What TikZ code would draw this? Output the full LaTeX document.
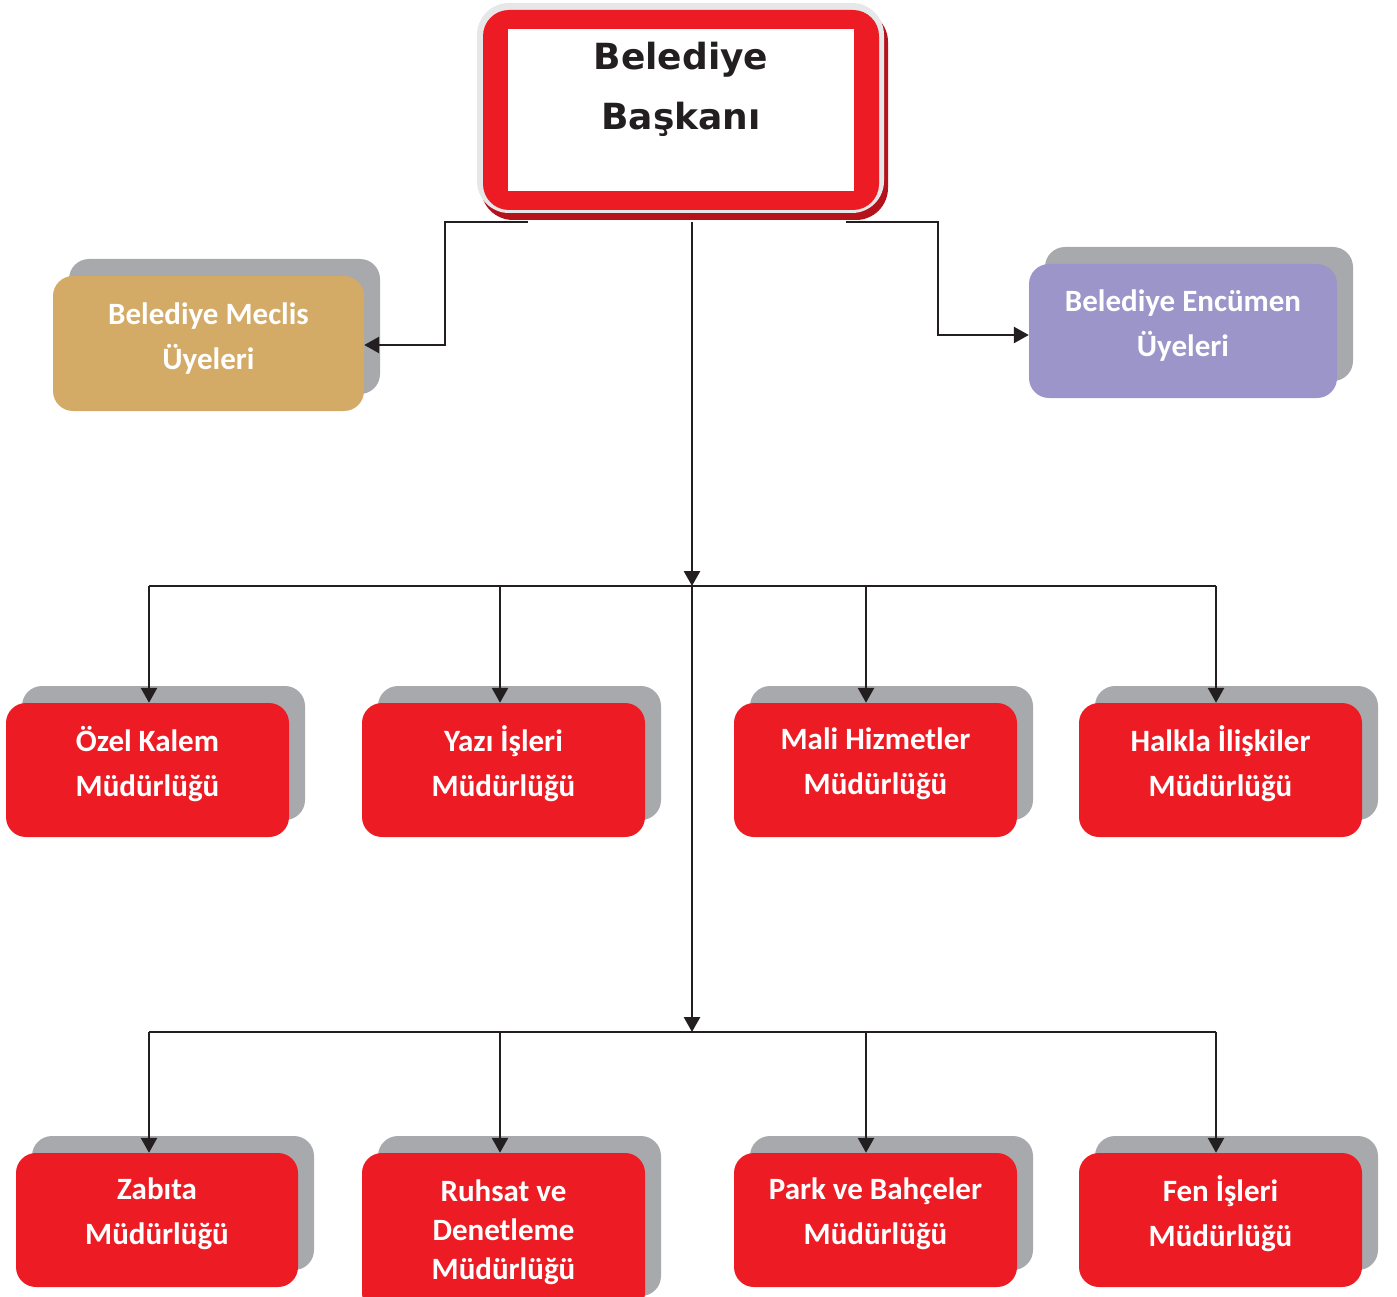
\documentclass[tikz,border=0pt]{standalone}
\usepackage{fontspec}
\setmainfont{Carlito}
\newfontfamily\headfont{DejaVu Sans}
\usetikzlibrary{arrows.meta,shadows,calc}
\definecolor{rd}{HTML}{ED1C24}
\definecolor{shg}{HTML}{A7A9AC}
\definecolor{tanc}{HTML}{D3AB67}
\definecolor{lil}{HTML}{9B95C9}
\definecolor{lnc}{HTML}{231F20}
\definecolor{ringc}{HTML}{E6E7E8}
\definecolor{dred}{HTML}{B5121B}
\begin{document}
\begin{tikzpicture}[x=1pt,y=-1pt,
  box/.style={rounded corners=20pt, minimum width=283pt, minimum height=134pt,
    text=white, font=\fontsize{31}{45}\selectfont\bfseries, align=center, inner sep=0pt,
    text depth=18pt,
    copy shadow={shadow xshift=16pt, shadow yshift=17pt, fill=shg, draw=none}},
  redbox/.style={box, fill=rd},
  arr/.style={-{Triangle[length=15pt,width=16pt]}, line width=2.7pt, draw=lnc},
  conn/.style={line width=2.7pt, draw=lnc}]
\useasboundingbox (0,0) rectangle (1397,1297);

% top box
\node[fill=dred, rounded corners=32pt, minimum width=407pt, minimum height=210pt, inner sep=0pt] (bshadow) at (684.5,115) {};
\node[fill=ringc, rounded corners=32pt, minimum width=407pt, minimum height=210pt, inner sep=0pt] (baskan) at (680.5,108) {};
\node[fill=rd, rounded corners=26pt, minimum width=396pt, minimum height=200pt, inner sep=0pt] (baskanred) at (681,110) {};
\node[fill=white, minimum width=346pt, minimum height=162pt, inner sep=0pt] (baskanin) at (681,110) {};
\node[font=\headfont\fontsize{36}{60}\selectfont\bfseries, text=lnc, align=center] (baskantext) at (681,89) {Belediye\\Başkanı};

% side boxes
\node[box, fill=tanc, minimum width=311pt, minimum height=135pt, text depth=15pt] (meclis) at (208.5,343.5) {Belediye Meclis\\Üyeleri};
\node[box, fill=lil, minimum width=308pt, minimum height=134pt, text depth=15pt] (encumen) at (1183,331) {Belediye Encümen\\Üyeleri};

% row 1
\node[redbox] (ozel) at (147.5,770) {Özel Kalem\\Müdürlüğü};
\node[redbox] (yazi) at (503.5,770) {Yazı İşleri\\Müdürlüğü};
\node[redbox] (mali) at (875.5,770) {Mali Hizmetler\\Müdürlüğü};
\node[redbox] (halkla) at (1220.5,770) {Halkla İlişkiler\\Müdürlüğü};

% row 2
\node[redbox, minimum width=282pt] (zabita) at (157,1220) {Zabıta\\Müdürlüğü};
\node[redbox, minimum height=160pt, text depth=7pt, font=\fontsize{31}{39}\selectfont\bfseries] (ruhsat) at (503.5,1233) {Ruhsat ve\\Denetleme\\Müdürlüğü};
\node[redbox] (park) at (875.5,1220) {Park ve Bahçeler\\Müdürlüğü};
\node[redbox] (fen) at (1220.5,1220) {Fen İşleri\\Müdürlüğü};

% connector points
\coordinate (bl) at (528,222);
\coordinate (br) at (846,222);
\coordinate (bm) at (692,222);
\coordinate (j1) at (692,586);
\coordinate (j2) at (692,1032);
\coordinate (a1) at (149,586);
\coordinate (a2) at (500,586);
\coordinate (a3) at (866,586);
\coordinate (a4) at (1216,586);
\coordinate (b1) at (149,1032);
\coordinate (b2) at (500,1032);
\coordinate (b3) at (866,1032);
\coordinate (b4) at (1216,1032);

% connectors
\draw[arr] (bl) -- ++(-83,0) |- ([yshift=-1.5pt]meclis.east);
\draw[arr] (br) -- ++(92,0) |- ([yshift=-4pt]encumen.west);
\draw[arr] (bm) -- (j1);
\draw[arr] (j1) -- (j2);
\draw[conn] (a1) -- (a4);
\draw[conn] (b1) -- (b4);
\draw[arr] (a1) -- (a1 |- ozel.north);
\draw[arr] (a2) -- (a2 |- yazi.north);
\draw[arr] (a3) -- (a3 |- mali.north);
\draw[arr] (a4) -- (a4 |- halkla.north);
\draw[arr] (b1) -- (b1 |- zabita.north);
\draw[arr] (b2) -- (b2 |- ruhsat.north);
\draw[arr] (b3) -- (b3 |- park.north);
\draw[arr] (b4) -- (b4 |- fen.north);
\end{tikzpicture}
\end{document}
